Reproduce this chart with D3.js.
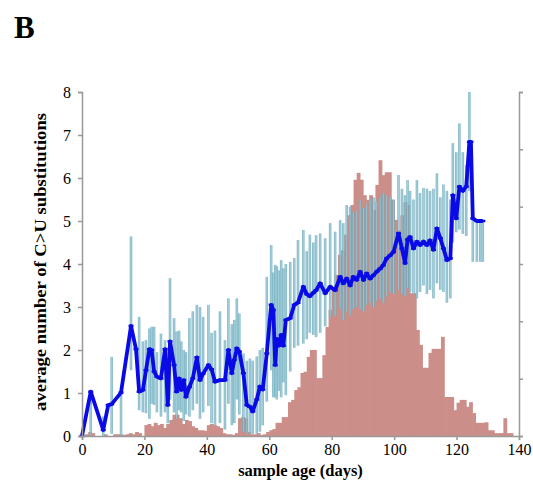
<!DOCTYPE html>
<html>
<head>
<meta charset="utf-8">
<script src="https://d3js.org/d3.v7.min.js"></script>
<style>
  body { margin: 0; background: #fff; }
  svg text { font-family: "Liberation Serif", "Times New Roman", serif; fill: #000; }
</style>
</head>
<body>
<svg id="chart"></svg>
<script>
// histogram of samples per day (right axis, unlabeled), one bin per day starting at day 0
var histCounts = [0, 0.03, 0.07, 0.05, 0, 0, 0, 0.03, 0, 0,
	0.03, 0.03, 0.03, 0.02, 0.03, 0.05, 0.03, 0.07, 0.05, 0,
	0.19, 0.21, 0.17, 0.23, 0.19, 0.21, 0.14, 0.21, 0.28, 0.37,
	0.37, 0.31, 0.21, 0.28, 0.26, 0.17, 0.14, 0.10, 0.10, 0.09,
	0.19, 0.21, 0.19, 0.17, 0.14, 0.05, 0.03, 0.03, 0.02, 0.05,
	0.31, 0.33, 0.31, 0.07, 0.03, 0.03, 0.05, 0.02, 0.03, 0.07,
	0.10, 0.12, 0.23, 0.23, 0.33, 0.33, 0.59, 0.63, 0.80, 0.85,
	1.10, 1.12, 1.38, 1.50, 1.50, 1.01, 1.01, 1.41, 1.90, 2.20,
	2.55, 2.81, 3.16, 3.24, 3.51, 3.85, 4.03, 4.47, 4.59, 4.47,
	4.20, 4.12, 4.20, 3.94, 4.38, 4.81, 4.55, 4.60, 4.60, 4.12,
	3.77, 3.59, 3.85, 4.08, 4.03, 2.49, 2.49, 1.85, 1.59, 1.19,
	1.19, 1.45, 1.52, 1.52, 1.52, 1.73, 0.68, 0.68, 0.68, 0.45,
	0.58, 0.63, 0.63, 0.51, 0.59, 0.40, 0.23, 0.23, 0.23, 0.24,
	0.10, 0.10, 0.05, 0.05, 0.05, 0.31, 0.05, 0.05];

// mean C>U substitutions per sample age, with the spread shown as error bars
var ageDays = [0, 2.8, 6.8, 8.4, 9.5, 12.5, 15.7, 17.3, 18.3, 19.5,
	20.5, 21.6, 22.3, 23.1, 24.0, 25.3, 26.6, 27.5, 28.2, 29.5,
	30.3, 31.1, 31.8, 32.6, 33.3, 34.4, 35.5, 36.8, 37.8, 38.8,
	40.5, 41.5, 42.6, 44.2, 45.8, 46.9, 48.0, 48.8, 49.6, 50.4,
	51.7, 52.8, 53.8, 54.7, 56.0, 57.0, 57.9, 59.2, 60.6, 61.3,
	61.9, 62.4, 63.0, 63.8, 64.5, 65.3, 66.7, 68.0, 69.2, 70.9,
	72.0, 73.0, 74.1, 75.0, 76.3, 77.9, 79.5, 81.1, 82.7, 83.7,
	84.8, 85.9, 86.9, 88.0, 89.1, 90.2, 91.2, 92.3, 93.4, 94.4,
	95.5, 96.5, 97.6, 98.7, 99.8, 101.4, 102.5, 103.5, 104.3, 105.1,
	106.2, 107.3, 108.3, 109.4, 110.5, 111.5, 112.6, 113.7, 114.8, 115.8,
	116.9, 118.0, 118.8, 119.9, 120.9, 122.0, 123.1, 124.1, 124.6, 125.2,
	126.5, 127.6, 128.4];
var meanSubs = [0, 1.03, 0.14, 0.72, 0.74, 1.01, 2.56, 2.02, 1.03, 1.07,
	1.53, 2.02, 2.00, 1.50, 1.38, 1.34, 2.02, 0.72, 2.20, 1.65,
	1.03, 1.34, 1.07, 1.30, 0.91, 1.14, 1.34, 1.83, 1.30, 1.45,
	1.65, 1.55, 1.26, 1.30, 1.30, 2.00, 1.46, 1.77, 2.04, 1.96,
	1.46, 0.72, 0.68, 0.57, 0.85, 1.15, 1.08, 1.92, 3.05, 2.93,
	1.65, 2.26, 2.10, 2.35, 2.10, 2.70, 2.74, 3.05, 3.10, 3.47,
	3.30, 3.25, 3.33, 3.39, 3.55, 3.32, 3.47, 3.39, 3.70, 3.55,
	3.66, 3.50, 3.70, 3.63, 3.82, 3.63, 3.78, 3.66, 3.74, 3.82,
	3.89, 3.97, 4.13, 4.20, 4.28, 4.71, 4.36, 4.02, 4.57, 4.63,
	4.36, 4.52, 4.44, 4.52, 4.44, 4.55, 4.33, 4.83, 4.60, 4.36,
	4.09, 4.13, 5.60, 5.06, 5.80, 5.70, 5.80, 6.84, 6.84, 5.06,
	5.00, 5.00, 5.00];
var lowSubs = [0, 0, 0, 0.72, 0.05, 0, 1.53, 2.02, 0.60, 0.55,
	0.53, 0.40, 0.75, 0.72, 0.55, 0.45, 0.55, 0.30, 0.84, 0.55,
	0.40, 0.60, 0.55, 0.35, 0.50, 0.45, 0.60, 0.75, 0.40, 0.55,
	0.70, 0.30, 0.25, 0.30, 0.15, 0.75, 0.25, 0.30, 0.85, 0.50,
	0.10, 0.05, 0.05, 0.05, 0.05, 0.10, 0.25, 0.80, 1.53, 0.90,
	0.90, 0.85, 1.05, 0.90, 1.25, 0.95, 1.50, 2.05, 2.10, 2.15,
	2.25, 2.40, 2.35, 2.30, 2.40, 2.55, 2.75, 2.80, 2.95, 2.70,
	2.90, 2.80, 2.95, 3.00, 2.95, 2.90, 3.05, 3.10, 3.00, 3.15,
	3.20, 3.10, 3.25, 3.35, 3.30, 3.40, 3.30, 3.25, 3.45, 3.35,
	3.30, 3.20, 3.35, 3.50, 3.30, 3.40, 3.20, 3.55, 3.40, 3.35,
	3.10, 3.20, 4.50, 4.74, 4.80, 4.70, 4.65, 5.70, 6.84, 4.05,
	4.05, 4.05, 4.05];
var highSubs = [0, 1.03, 0.45, 0.72, 1.84, 1.01, 4.64, 2.02, 2.77, 2.20,
	2.23, 2.50, 2.54, 2.54, 1.95, 2.38, 2.23, 2.05, 3.67, 2.74,
	2.43, 2.45, 2.20, 2.00, 1.95, 2.74, 2.90, 3.05, 3.00, 2.77,
	3.05, 2.40, 2.45, 2.90, 2.23, 3.20, 2.60, 2.70, 3.20, 2.85,
	1.92, 1.75, 1.80, 1.75, 1.85, 2.00, 2.05, 3.70, 4.44, 3.80,
	3.98, 3.95, 3.85, 4.09, 3.90, 4.00, 4.05, 4.14, 4.56, 4.79,
	4.30, 4.68, 4.50, 4.67, 4.71, 4.60, 4.95, 4.75, 5.02, 4.95,
	5.37, 5.33, 5.20, 5.25, 5.50, 5.30, 5.40, 5.50, 5.55, 5.45,
	5.55, 5.65, 5.60, 5.55, 5.50, 6.07, 5.75, 5.60, 5.95, 5.70,
	5.50, 5.95, 5.65, 5.77, 5.75, 5.70, 5.75, 6.11, 5.55, 5.85,
	5.70, 5.50, 6.81, 6.60, 7.27, 6.60, 6.30, 8.00, 6.84, 5.06,
	5.00, 5.00, 5.00];

var xTicks = [0, 20, 40, 60, 80, 100, 120, 140];
var yTicks = [0, 1, 2, 3, 4, 5, 6, 7, 8];
var rightTicks = [0, 1, 2, 3, 4, 5, 6];

var width = 533;
var height = 487;
var serif = '"Liberation Serif", "Times New Roman", serif';

var svg = d3.select('#chart')
	.attr('width', width)
	.attr('height', height);

var x = d3.scaleLinear().domain([0, 140]).range([82, 519]);
var y = d3.scaleLinear().domain([0, 8]).range([436, 92]);
var yRight = d3.scaleLinear().domain([0, 6]).range([436, 92]);

//panel letter
svg.append('text')
	.attr('x', 14)
	.attr('y', 38)
	.style('font-size', '31px')
	.style('font-weight', 'bold')
	.text('B');

//histogram bars (slightly overlapped so no seams show)
svg.append('g').selectAll('rect')
	.data(histCounts)
	.enter()
	.append('rect')
	.attr('x', function(d, i) { return x(i); })
	.attr('width', function(d, i) { return x(i + 1) - x(i) + 0.7; })
	.attr('y', function(d) { return yRight(d); })
	.attr('height', function(d) { return yRight(0) - yRight(d); })
	.attr('fill', '#cc8e89');

//error bars, darker edge with a pale centre
var errG = svg.append('g');
errG.selectAll('line.edge')
	.data(ageDays)
	.enter()
	.append('line')
	.attr('class', 'edge')
	.attr('x1', function(d) { return x(d); })
	.attr('x2', function(d) { return x(d); })
	.attr('y1', function(d, i) { return y(lowSubs[i]); })
	.attr('y2', function(d, i) { return y(highSubs[i]); })
	.attr('stroke', '#6aaabb')
	.attr('stroke-opacity', 0.8)
	.attr('stroke-width', 2.6);
errG.selectAll('line.core')
	.data(ageDays)
	.enter()
	.append('line')
	.attr('class', 'core')
	.attr('x1', function(d) { return x(d); })
	.attr('x2', function(d) { return x(d); })
	.attr('y1', function(d, i) { return y(lowSubs[i]); })
	.attr('y2', function(d, i) { return y(highSubs[i]); })
	.attr('stroke', '#c4e4ee')
	.attr('stroke-opacity', 0.6)
	.attr('stroke-width', 0.8);

//mean line
var line = d3.line()
	.x(function(d) { return x(d); })
	.y(function(d, i) { return y(meanSubs[i]); });

svg.append('path')
	.datum(ageDays)
	.attr('d', line)
	.attr('fill', 'none')
	.attr('stroke', '#0a0ae6')
	.attr('stroke-width', 3.8)
	.attr('stroke-linejoin', 'round');

//little dash markers on the line
svg.append('g').selectAll('line')
	.data(ageDays)
	.enter()
	.append('line')
	.attr('x1', function(d) { return x(d) - 2.5; })
	.attr('x2', function(d) { return x(d) + 2.5; })
	.attr('y1', function(d, i) { return y(meanSubs[i]); })
	.attr('y2', function(d, i) { return y(meanSubs[i]); })
	.attr('stroke', '#0a0ae6')
	.attr('stroke-width', 2.5);

//axes
function styleAxis(g)
{
	g.attr('font-family', serif).attr('font-size', 16);
	g.selectAll('path.domain').attr('stroke', '#999').attr('stroke-width', 1.5);
	g.selectAll('.tick line').attr('stroke', '#999').attr('stroke-width', 1.5);
	g.selectAll('.tick text')
		.attr('font-family', serif)
		.style('font-family', serif)
		.style('font-size', '16px')
		.attr('fill', '#000');
}

svg.append('g')
	.attr('transform', 'translate(0,436)')
	.call(d3.axisBottom(x).tickValues(xTicks).tickSize(4).tickSizeOuter(4).tickPadding(4))
	.call(styleAxis);

svg.append('g')
	.attr('transform', 'translate(82,0)')
	.call(d3.axisLeft(y).tickValues(yTicks).tickSize(4).tickSizeOuter(4).tickPadding(7))
	.call(styleAxis);

svg.append('g')
	.attr('transform', 'translate(519,0)')
	.call(d3.axisRight(yRight).tickValues(rightTicks).tickSize(4).tickSizeOuter(4).tickFormat(''))
	.call(styleAxis);

//axis titles
svg.append('text')
	.attr('x', x(70))
	.attr('y', 476)
	.attr('text-anchor', 'middle')
	.style('font-size', '16.5px')
	.style('font-weight', 'bold')
	.text('sample age (days)');

svg.append('text')
	.attr('transform', 'translate(46,262) rotate(-90)')
	.attr('text-anchor', 'middle')
	.attr('textLength', 298)
	.attr('lengthAdjust', 'spacingAndGlyphs')
	.style('font-size', '17px')
	.style('font-weight', 'bold')
	.text('average number of C>U substitutions');
</script>
</body>
</html>
